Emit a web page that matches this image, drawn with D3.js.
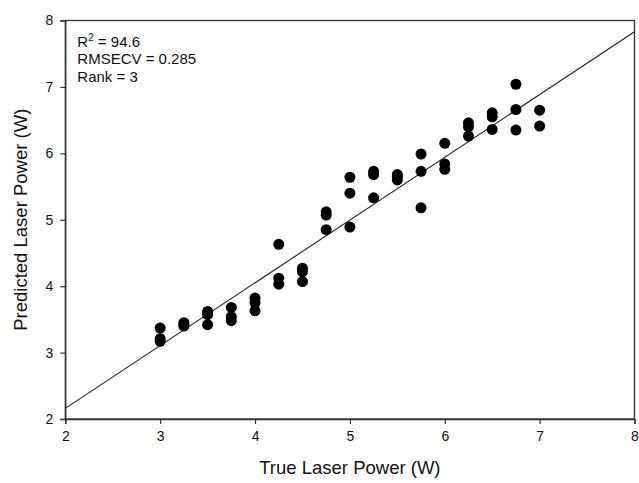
<!DOCTYPE html>
<html>
<head>
<meta charset="utf-8">
<script src="https://cdn.jsdelivr.net/npm/d3@7"></script>
<style>
  body { margin: 0; background: #fff; }
  text { font-family: "Liberation Sans", Arial, sans-serif; fill: #111; }
</style>
</head>
<body>
<div id="chart"></div>
<script>
// true laser power (W) for each calibration sample
const trueVals = [
    3, 3, 3,
    3.25, 3.25, 3.25,
    3.5, 3.5, 3.5,
    3.75, 3.75, 3.75,
    4, 4, 4,
    4.25, 4.25, 4.25,
    4.5, 4.5, 4.5,
    4.75, 4.75, 4.75,
    5, 5, 5,
    5.25, 5.25, 5.25,
    5.5, 5.5, 5.5,
    5.75, 5.75, 5.75,
    6, 6, 6,
    6.25, 6.25, 6.25,
    6.5, 6.5, 6.5,
    6.75, 6.75, 6.75,
    7, 7
];
// predicted laser power (W), cross-validated
const predVals = [
    3.37, 3.21, 3.17,
    3.45, 3.42, 3.40,
    3.62, 3.57, 3.42,
    3.68, 3.54, 3.48,
    3.82, 3.75, 3.63,
    4.63, 4.12, 4.03,
    4.27, 4.22, 4.07,
    5.12, 5.07, 4.85,
    5.64, 5.40, 4.89,
    5.73, 5.68, 5.33,
    5.68, 5.65, 5.60,
    5.99, 5.73, 5.18,
    6.15, 5.84, 5.76,
    6.46, 6.40, 6.26,
    6.61, 6.55, 6.36,
    7.04, 6.66, 6.35,
    6.65, 6.41
];
// regression line end points
const fitX = [2, 8];
const fitY = [2.16, 7.83];

const xTicks = [2, 3, 4, 5, 6, 7, 8];
const yTicks = [2, 3, 4, 5, 6, 7, 8];
const statLines = ["RMSECV = 0.285", "Rank = 3"];

const width = 639, height = 483;
const margin = {top: 20.5, right: 4.5, bottom: 64, left: 65.3};
const w = width - margin.left - margin.right;
const h = height - margin.top - margin.bottom;

const svg = d3.select("#chart").append("svg")
    .attr("width", width)
    .attr("height", height);

const g = svg.append("g")
    .attr("transform", `translate(${margin.left},${margin.top})`);

const x = d3.scaleLinear().domain([2, 8]).range([0, w]);
const y = d3.scaleLinear().domain([2, 8]).range([h, 0]);

// frame
g.append("rect")
    .attr("width", w).attr("height", h)
    .attr("fill", "none")
    .attr("stroke", "#333")
    .attr("stroke-width", 1.3);

// axes
const xAxis = g.append("g")
    .attr("transform", `translate(0,${h})`)
    .call(d3.axisBottom(x).tickValues(xTicks).tickFormat(d3.format("d")).tickSizeOuter(0).tickSize(5).tickPadding(7));
const yAxis = g.append("g")
    .call(d3.axisLeft(y).tickValues(yTicks).tickFormat(d3.format("d")).tickSizeOuter(0).tickSize(5).tickPadding(7));

[xAxis, yAxis].forEach(a => {
    a.select(".domain").attr("stroke", "#333").attr("stroke-width", 1.3);
    a.selectAll(".tick line").attr("stroke", "#333").attr("stroke-width", 1.2);
    a.selectAll(".tick text").style("font-size", "14px").attr("fill", "#111");
});

// fit line
g.append("line")
    .attr("x1", x(fitX[0])).attr("y1", y(fitY[0]))
    .attr("x2", x(fitX[1])).attr("y2", y(fitY[1]))
    .attr("stroke", "#222")
    .attr("stroke-width", 1.1);

// points
g.selectAll(".dot")
    .data(trueVals.map((t, i) => ({t: t, p: predVals[i]})))
    .enter().append("circle")
    .attr("class", "dot")
    .attr("cx", d => x(d.t))
    .attr("cy", d => y(d.p))
    .attr("r", 5.5)
    .attr("fill", "#000");

// stats text
const stats = g.append("text")
    .attr("x", 12)
    .attr("y", 26)
    .style("font-size", "15px");
stats.append("tspan").text("R");
stats.append("tspan").text("2").attr("dy", -6).style("font-size", "10px");
stats.append("tspan").text(" = 94.6").attr("dy", 6);

statLines.forEach((s, i) => {
    g.append("text")
        .attr("x", 12)
        .attr("y", 26 + 17.5 * (i + 1))
        .style("font-size", "15px")
        .text(s);
});

// axis titles
svg.append("text")
    .attr("x", margin.left + w / 2)
    .attr("y", 474)
    .attr("text-anchor", "middle")
    .style("font-size", "18.5px")
    .text("True Laser Power (W)");

svg.append("text")
    .attr("transform", `translate(27,${margin.top + h / 2}) rotate(-90)`)
    .attr("text-anchor", "middle")
    .style("font-size", "18.5px")
    .text("Predicted Laser Power (W)");
</script>
</body>
</html>
